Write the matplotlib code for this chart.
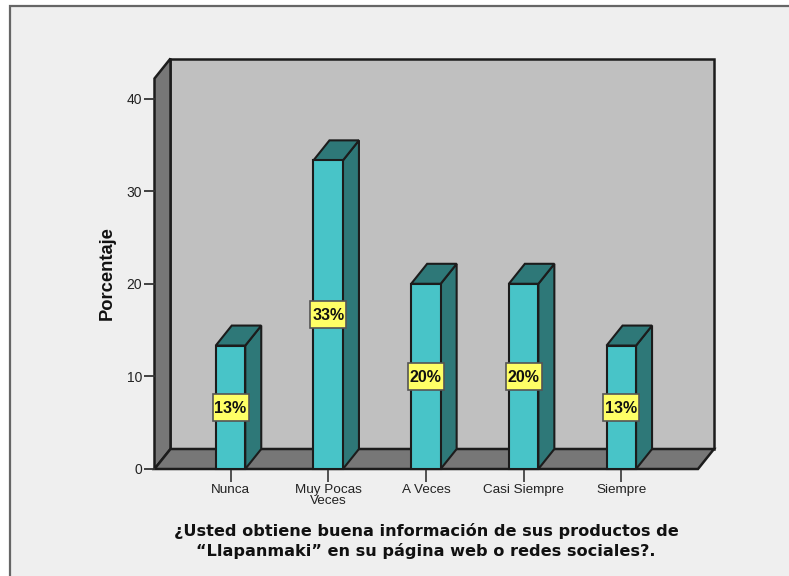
import matplotlib
matplotlib.use('Agg')
import matplotlib.pyplot as plt
from matplotlib.patches import Polygon, Rectangle
import numpy as np

categories = ['Nunca', 'Muy Pocas\nVeces', 'A Veces', 'Casi Siempre', 'Siempre']
percentages = [13.33, 33.33, 20.0, 20.0, 13.33]
bar_labels = ['13%', '33%', '20%', '20%', '13%']
y_ticks = [0, 10, 20, 30, 40]
y_title = 'Porcentaje'
x_title = '¿Usted obtiene buena información de sus productos de\n“Llapanmaki” en su página web o redes sociales?.'

W, H = 789, 576
PX_X = 97.7   # pixels per category
PX_Y = 9.26   # pixels per percentage point
DEPTH_X = 16 / PX_X
DEPTH_Y = 20 / PX_Y
BAR_W = 29.5 / PX_X

FRONT = '#48c4c8'
DARK = '#2e7878'
WALL = '#c0c0c0'
SIDE = '#777777'
BG = '#efefef'
EDGE = '#1c1c1c'

fig = plt.figure(figsize=(W / 100, H / 100), dpi=100, facecolor=BG)

# panel frame, open on the right and bottom
frame = fig.add_axes([0, 0, 1, 1], zorder=0)
frame.set_xlim(0, W)
frame.set_ylim(H, 0)
frame.axis('off')
frame.fill_between([0, 10], 0, H, color='white', lw=0)
frame.fill_between([0, W], 0, 5, color='white', lw=0)
frame.plot([10, 10, W], [H, 5.5, 5.5], color='#666666', lw=1.6, solid_joinstyle='miter')

left, right, bottom, top = 154.5, 698, 469, 78.5
ax = fig.add_axes([left / W, 1 - bottom / H, (right - left) / W, (bottom - top) / H], zorder=1)
ax.patch.set_alpha(0)
ax.set_xlim((left - 230.5) / PX_X, (right - 230.5) / PX_X)
ax.set_ylim(0, (bottom - top) / PX_Y)
for s in ax.spines.values():
    s.set_visible(False)

x0, x1 = ax.get_xlim()
y0, y1 = ax.get_ylim()


def box_face(pts, color, z, lw=1.5):
    ax.add_patch(Polygon(pts, closed=True, facecolor=color, edgecolor=EDGE, lw=lw,
                         joinstyle='miter', clip_on=False, zorder=z))


# back wall, left wall and floor of the 3D box
box_face([(x0 + DEPTH_X, DEPTH_Y), (x1 + DEPTH_X, DEPTH_Y), (x1 + DEPTH_X, y1 + DEPTH_Y), (x0 + DEPTH_X, y1 + DEPTH_Y)], WALL, 1, lw=1.8)
box_face([(x0, 0), (x0 + DEPTH_X, DEPTH_Y), (x0 + DEPTH_X, y1 + DEPTH_Y), (x0, y1)], SIDE, 1, lw=1.8)
box_face([(x0, 0), (x1, 0), (x1 + DEPTH_X, DEPTH_Y), (x0 + DEPTH_X, DEPTH_Y)], SIDE, 1, lw=1.8)

LABEL_W = 36 / PX_X
LABEL_H = 27 / PX_Y
for i, (val, lab) in enumerate(zip(percentages, bar_labels)):
    l, r = i - BAR_W / 2, i + BAR_W / 2
    box_face([(r, 0), (r + DEPTH_X, DEPTH_Y), (r + DEPTH_X, val + DEPTH_Y), (r, val)], DARK, 3)
    box_face([(l, val), (r, val), (r + DEPTH_X, val + DEPTH_Y), (l + DEPTH_X, val + DEPTH_Y)], DARK, 3)
    box_face([(l, 0), (r, 0), (r, val), (l, val)], FRONT, 4)
    # value label box centred on the bar
    ax.add_patch(Rectangle((i - LABEL_W / 2, val / 2 - LABEL_H / 2), LABEL_W, LABEL_H,
                           facecolor='#ffff66', edgecolor='#555555', lw=1.2, zorder=5))
    ax.text(i, val / 2 - 0.1, lab, ha='center', va='center', fontsize=11.5, fontweight='bold',
            family='Liberation Sans', color='#111111', zorder=6)

ax.set_xticks(np.arange(len(categories)))
ax.set_xticklabels(categories, family='Liberation Sans', fontsize=9.7, color='#222222', linespacing=0.82)
ax.set_yticks(y_ticks)
ax.set_yticklabels(y_ticks, family='Liberation Sans', fontsize=10, color='#222222')
ax.tick_params(axis='x', length=9, width=1.3, color='#444444', pad=2)
ax.tick_params(axis='y', length=8, width=1.3, color='#333333', pad=1)

fig.text(107 / W, 1 - 273 / H, y_title, rotation=90, ha='center', va='center',
         family='Liberation Sans', fontweight='bold', fontsize=13.2, color='#111111')
fig.text(426 / W, 1 - 541 / H, x_title, ha='center', va='center', family='DejaVu Sans',
         fontweight='bold', fontsize=11.65, color='#111111', linespacing=1.38)

fig.savefig('out.png', dpi=100, facecolor=fig.get_facecolor())
plt.close(fig)
